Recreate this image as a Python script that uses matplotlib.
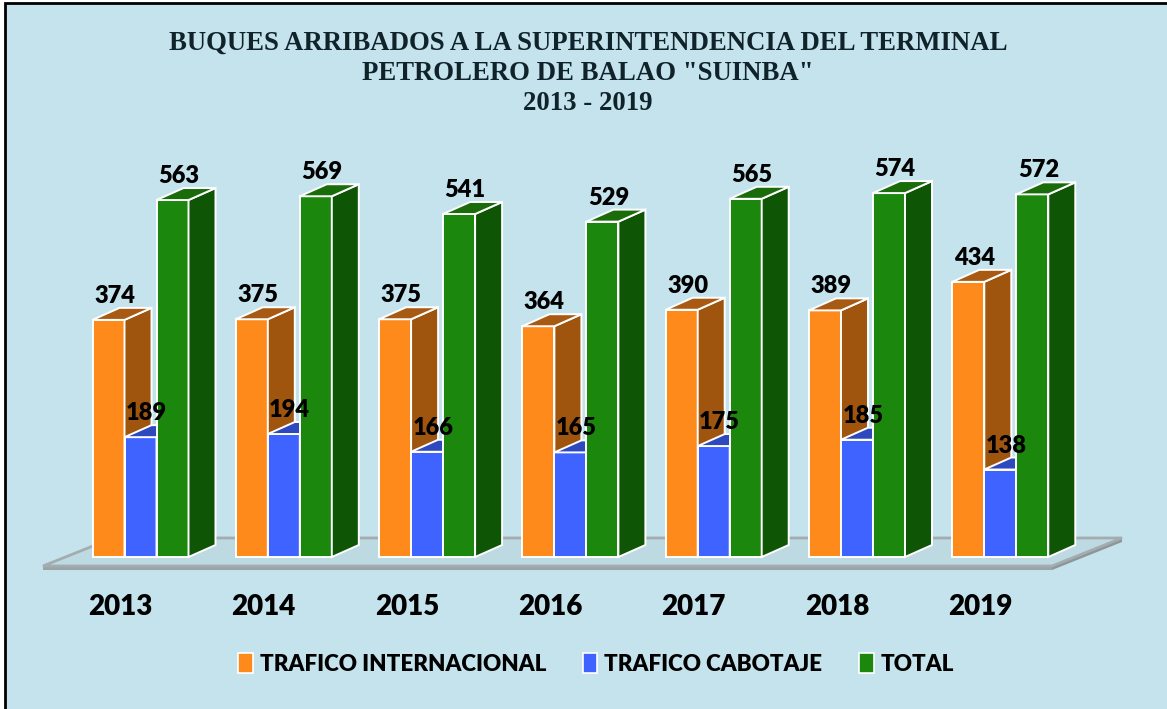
"""Buques arribados - Terminal Petrolero de Balao "SUINBA", 2013-2019.

Pseudo-3D grouped bars (front face from ax.bar, side/top faces as polygons
offset by a fixed depth).
"""
import matplotlib

matplotlib.use("Agg")
import matplotlib.pyplot as plt  # noqa: E402
from matplotlib.patches import Polygon, Rectangle, Patch  # noqa: E402

YEARS = ["2013", "2014", "2015", "2016", "2017", "2018", "2019"]
INTERNACIONAL = [374, 375, 375, 364, 390, 389, 434]
CABOTAJE = [189, 194, 166, 165, 175, 185, 138]
TOTAL = [563, 569, 541, 529, 565, 574, 572]

SERIES = [
    ("TRAFICO INTERNACIONAL", INTERNACIONAL, "#FF8A1C", "#A0550F", "#A85A12"),
    ("TRAFICO CABOTAJE", CABOTAJE, "#3E63FF", "#2B45B5", "#2E48BE"),
    ("TOTAL", TOTAL, "#1B870D", "#0F5506", "#1A6B0A"),
]
TITLE_LINES = ["BUQUES ARRIBADOS A LA SUPERINTENDENCIA DEL TERMINAL",
               "PETROLERO DE BALAO \"SUINBA\"",
               "2013 - 2019"]

BG = "#C5E3EC"
W_PX, H_PX = 1167, 709
# pixel layout of the data area
X0, SX = 140.5, 143.3      # px of first group centre, px per category
Y0, SY = 557.0, 0.634      # px of baseline, px per unit
BAR_W = 32 / SX
DX, DY = 27 / SX, 12 / SY  # depth of the 3D faces
WEIGHT = "heavy"


def main():
    plt.rcParams["font.family"] = ["Lato", "DejaVu Sans"]
    fig = plt.figure(figsize=(W_PX / 100, H_PX / 100), dpi=100, facecolor="white")
    # blue panel with black left/top border (right/bottom edges off-canvas)
    panel = Rectangle((5 / W_PX, -0.1), 1.2, 1.1 - 3 / H_PX,
                      transform=fig.transFigure, facecolor=BG,
                      edgecolor="black", linewidth=2, zorder=-5)
    fig.patches.append(panel)
    ax = fig.add_axes([0, 0, 1, 1])
    ax.set_axis_off()
    ax.patch.set_alpha(0)
    ax.set_xlim(-X0 / SX, (W_PX - X0) / SX)
    ax.set_ylim((Y0 - H_PX) / SY, Y0 / SY)

    # floor slab
    n = len(YEARS)
    fl, fr = (43 - X0) / SX, (1052 - X0) / SX
    fy = (Y0 - 566) / SY
    fdx, fdy = 70 / SX, 28 / SY
    thick = 4 / SY
    ax.add_patch(Polygon([(fl, fy), (fr, fy), (fr, fy - thick), (fl, fy - thick)],
                         closed=True, facecolor="#9AA4A8", edgecolor="none", zorder=1))
    ax.add_patch(Polygon([(fr, fy), (fr + fdx, fy + fdy), (fr + fdx, fy + fdy - thick),
                          (fr, fy - thick)], closed=True, facecolor="#8C969A",
                         edgecolor="none", zorder=1))
    ax.add_patch(Polygon([(fl, fy), (fr, fy), (fr + fdx, fy + fdy), (fl + fdx, fy + fdy)],
                         closed=True, facecolor="#BDD9E2", edgecolor="#A3ADB0",
                         linewidth=2, zorder=1.5))

    x = list(range(n))
    for k, (name, vals, front, side, top) in enumerate(SERIES):
        z = 3 + k
        xs = [xi + (k - 1) * BAR_W for xi in x]
        ax.bar(xs, vals, width=BAR_W, color=front, edgecolor="white",
               linewidth=1.4, zorder=z)
        for xc, v in zip(xs, vals):
            xl, xr = xc - BAR_W / 2, xc + BAR_W / 2
            ax.add_patch(Polygon([(xr, 0), (xr + DX, DY), (xr + DX, v + DY), (xr, v)],
                                 closed=True, facecolor=side, edgecolor="white",
                                 linewidth=1.4, zorder=z))
            ax.add_patch(Polygon([(xl, v), (xl + DX, v + DY), (xr + DX, v + DY), (xr, v)],
                                 closed=True, facecolor=top, edgecolor="white",
                                 linewidth=1.4, zorder=z))
            ax.text(xc + 6 / SX, v + 24 / SY, f"{v}", ha="center", va="center",
                    fontsize=17, fontweight=WEIGHT, color="black", zorder=10)

    for xi, yr in zip(x, YEARS):
        ax.text(xi - 20 / SX, (Y0 - 607) / SY, yr, ha="center", va="center",
                fontsize=20, fontweight=WEIGHT, color="black", zorder=10)

    for i, line in enumerate(TITLE_LINES):
        fig.text(588 / W_PX, 1 - (40 + 30 * i) / H_PX, line, ha="center",
                 va="center_baseline", fontsize=19.3, fontweight="bold",
                 family="Liberation Serif", color="#10222A")

    handles = [Patch(facecolor=c, edgecolor="white", linewidth=1.2, label=nm)
               for nm, _, c, _, _ in SERIES]
    fig.legend(handles=handles, loc="center", bbox_to_anchor=(596 / W_PX, 1 - 664 / H_PX),
               ncol=3, frameon=False, handlelength=0.65, handleheight=1.0,
               handletextpad=0.3, columnspacing=1.65,
               prop={"weight": WEIGHT, "size": 16.1})

    fig.savefig("out.png", dpi=100, facecolor="white")
    plt.close(fig)


if __name__ == "__main__":
    main()
